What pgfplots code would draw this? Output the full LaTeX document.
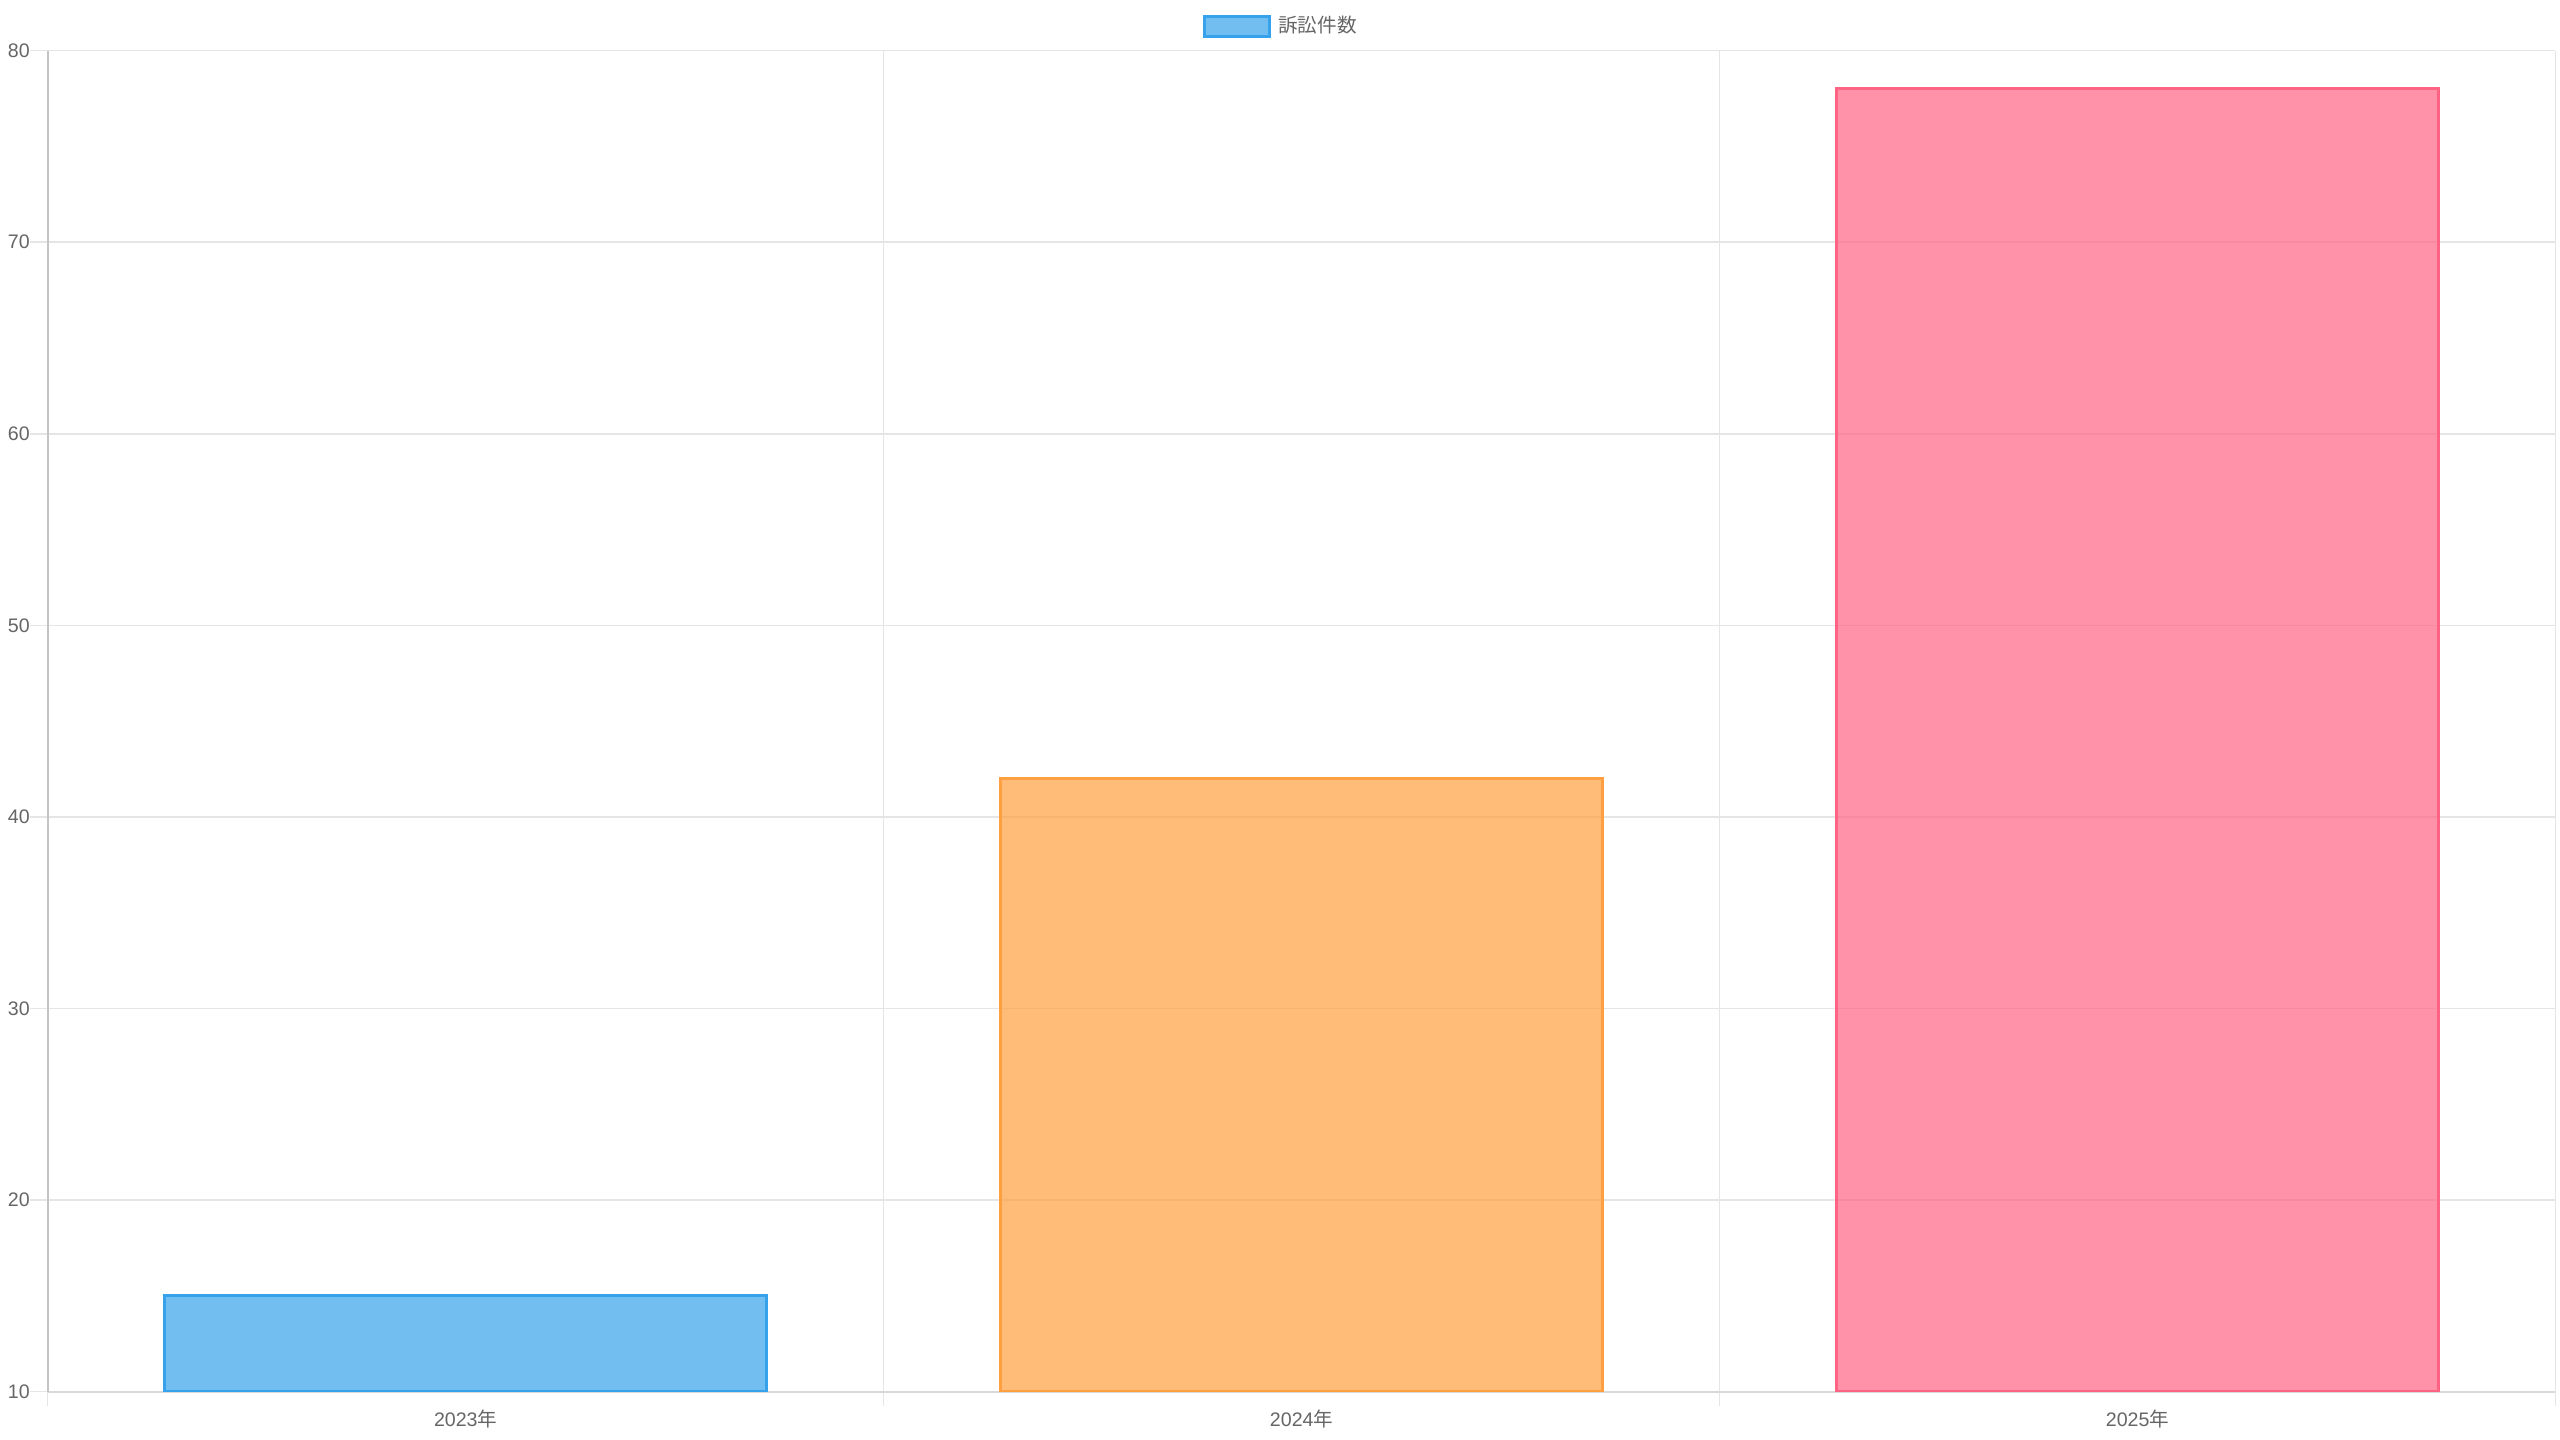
\documentclass[border=0pt]{standalone}
\usepackage{fontspec}
\usepackage{pgfplots}
\pgfplotsset{compat=1.18}
\setmainfont{Liberation Sans}
\newfontfamily\cjk{Noto Sans CJK JP}

\definecolor{cjblue}{RGB}{54,162,235}
\definecolor{cjorange}{RGB}{255,159,64}
\definecolor{cjpink}{RGB}{255,99,132}
\definecolor{ticktext}{RGB}{102,102,102}
\definecolor{gridgray}{RGB}{229,229,229}

\begin{document}
\begin{tikzpicture}
\path[use as bounding box] (0,0) rectangle (784pt,441pt);
\begin{axis}[
    at={(14.6pt,14.8pt)}, anchor=south west,
    scale only axis,
    width=768pt, height=410.7pt,
    font=\fontsize{6}{7}\selectfont,
    xmin=-0.5, xmax=2.5,
    ymin=10, ymax=80,
    ytick={10,20,...,80},
    xtick={0,1,2},
    xticklabels={2023{\cjk 年},2024{\cjk 年},2025{\cjk 年}},
    minor xtick={-0.5,0.5,1.5,2.5},
    xminorgrids=true, ymajorgrids=true,
    grid style={gridgray, line width=0.5pt},
    minor grid style={gridgray, line width=0.5pt},
    tick align=outside,
    major tick length=5.3pt,
    minor tick length=4.5pt,
    major x tick style={draw=none},
    minor x tick style={gridgray, line width=0.5pt},
    major y tick style={gridgray, line width=0.5pt},
    axis x line*=bottom,
    axis y line*=left,
    x axis line style={color=black!15, line width=0.6pt},
    y axis line style={color=black!23, line width=0.6pt},
    /pgf/number format/assume math mode=true,
    ticklabel style={color=ticktext, inner sep=0pt},
    yticklabel style={anchor=east},
    xticklabel style={anchor=base, yshift=-5.5pt},
    ybar, bar width=0.72, bar shift=0pt,
    legend image code/.code={\draw[#1, line width=0.8pt] (0pt,-3pt) rectangle (20pt,3pt);},
    legend style={draw=none, fill=none, inner sep=0pt,
        at={(0.4604,1.018)}, anchor=west,
        nodes={inner sep=0pt, text=ticktext, font=\fontsize{6}{7}\selectfont\cjk},
        /tikz/every odd column/.append style={column sep=2.3pt}},
]
\addplot[draw=cjblue, fill=cjblue, fill opacity=0.7, line width=0.9pt] coordinates {(0,15)};
\addlegendentry{訴訟件数}
\addplot[draw=cjorange, fill=cjorange, fill opacity=0.7, line width=0.9pt, forget plot] coordinates {(1,42)};
\addplot[draw=cjpink, fill=cjpink, fill opacity=0.7, line width=0.9pt, forget plot] coordinates {(2,78)};
\end{axis}
\end{tikzpicture}
\end{document}
